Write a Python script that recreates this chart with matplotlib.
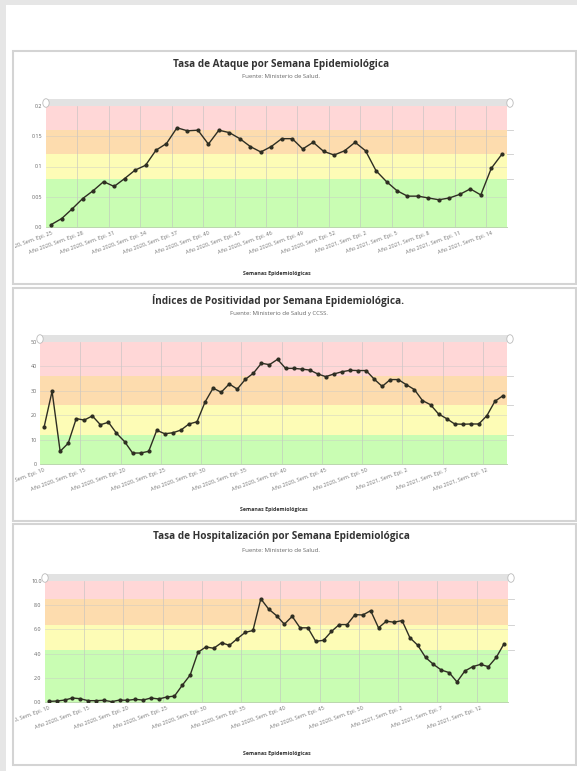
import matplotlib
matplotlib.use("Agg")
import matplotlib.pyplot as plt
from matplotlib.patches import Rectangle, Circle
from matplotlib.transforms import Bbox, TransformedBbox

plt.rcParams['font.family'] = ['Open Sans', 'DejaVu Sans']

W, H = 577, 771

# datos
ataque = [0.004, 0.014, 0.030, 0.047, 0.060, 0.075, 0.067, 0.080, 0.094, 0.102,
          0.127, 0.138, 0.164, 0.159, 0.160, 0.137, 0.160, 0.156, 0.146, 0.133,
          0.124, 0.133, 0.146, 0.146, 0.129, 0.140, 0.125, 0.119, 0.126, 0.140,
          0.126, 0.093, 0.075, 0.060, 0.051, 0.051, 0.048, 0.045, 0.048, 0.054,
          0.063, 0.053, 0.097, 0.120]
positividad = [15.0, 29.8, 5.2, 8.5, 18.6, 18.0, 19.7, 16.1, 17.1, 12.6,
               9.2, 4.5, 4.5, 5.2, 13.8, 12.4, 12.8, 13.9, 16.4, 17.3,
               25.4, 31.1, 29.4, 32.8, 30.7, 34.7, 37.2, 41.3, 40.7, 42.9,
               39.2, 39.2, 38.9, 38.5, 36.9, 35.8, 36.9, 37.8, 38.4, 38.3,
               38.3, 34.8, 31.8, 34.6, 34.6, 32.5, 30.5, 26.0, 24.3, 20.5,
               18.6, 16.4, 16.3, 16.4, 16.4, 19.8, 25.7, 28.0]
hospital = [0.05, 0.08, 0.16, 0.33, 0.27, 0.11, 0.11, 0.14, 0.03, 0.16,
            0.14, 0.22, 0.16, 0.33, 0.25, 0.41, 0.49, 1.39, 2.23, 4.11,
            4.55, 4.44, 4.90, 4.68, 5.23, 5.75, 5.91, 8.53, 7.68, 7.14,
            6.43, 7.08, 6.13, 6.13, 5.01, 5.10, 5.83, 6.40, 6.40, 7.22,
            7.19, 7.55, 6.13, 6.68, 6.59, 6.73, 5.31, 4.69, 3.68, 3.11,
            2.64, 2.43, 1.66, 2.56, 2.92, 3.11, 2.92, 3.68, 4.82]

semana_inicio_ataque = 25
semana_inicio_pos = 10
semana_inicio_hosp = 10

titulos = ["Tasa de Ataque por Semana Epidemiológica",
           "Índices de Positividad por Semana Epidemiológica.",
           "Tasa de Hospitalización por Semana Epidemiológica"]
fuentes = ["Fuente: Ministerio de Salud.",
           "Fuente: Ministerio de Salud y CCSS.",
           "Fuente: Ministerio de Salud."]

# limites de las bandas (verde, amarillo, naranja, rojo)
bandas_ataque = [0.0, 0.08, 0.12, 0.16, 0.2]
bandas_pos = [0, 12, 24, 36, 50]
bandas_hosp = [0.0, 4.3, 6.4, 8.5, 10.0]
colores_bandas = ['#c9fdb3', '#fdfcb6', '#fddcae', '#ffd7d7']

yticks_ataque = [0.0, 0.05, 0.1, 0.15, 0.2]
ylab_ataque = ['0.0', '0.05', '0.1', '0.15', '0.2']
yticks_pos = [0, 10, 20, 30, 40, 50]
ylab_pos = ['0', '10', '20', '30', '40', '50']
yticks_hosp = [0, 2, 4, 6, 8, 10]
ylab_hosp = ['0.0', '2.0', '4.0', '6.0', '8.0', '10.0']


def etiquetas_semanas(inicio, n):
    anio, sem = 2020, inicio
    out = []
    for _ in range(n):
        out.append(f"Año {anio}, Sem. Epi. {sem}")
        sem += 1
        if anio == 2020 and sem > 53:
            anio, sem = 2021, 1
    return out


fig = plt.figure(figsize=(W/100, H/100), dpi=100)

def fx(x):
    return x/W

def fy(y):
    return 1 - y/H

# marco exterior
fig.patches.append(Rectangle((0, 0), fx(6), 1, transform=fig.transFigure,
                             facecolor='#e6e6e6', edgecolor='none', zorder=-2))
fig.patches.append(Rectangle((0, fy(5)), 1, 5/H, transform=fig.transFigure,
                             facecolor='#e6e6e6', edgecolor='none', zorder=-2))


def panel(caja, plot, valores, inicio, paso, bandas, yticks, ylabs, titulo, fuente):
    bx0, by0, bx1, by1 = caja
    px0, py0, px1, py1 = plot
    # caja del panel
    fig.patches.append(Rectangle((fx(bx0), fy(by1)), fx(bx1-bx0), (by1-by0)/H,
                                 transform=fig.transFigure, facecolor='white',
                                 edgecolor='#d4d4d4', lw=1.5, zorder=-1))
    cx = (px0 + px1) / 2 + 5
    fig.text(fx(cx), fy(by0+13), titulo, ha='center', va='center', fontsize=7.2,
             fontweight='bold', color='#333333')
    fig.text(fx(cx), fy(by0+26), fuente, ha='center', va='center', fontsize=4.3,
             color='#666666')
    # franja gris superior
    fig.patches.append(Rectangle((fx(px0), fy(py0)), fx(px1-px0+4), 7/H,
                                 transform=fig.transFigure, facecolor='#e2e2e2',
                                 edgecolor='none', zorder=2))
    for xc in (px0, px1+3):
        fig.patches.append(Circle((fx(xc), fy(py0-3)), 3.2/W, transform=fig.transFigure,
                                  facecolor='white', edgecolor='#bbbbbb', lw=0.6, zorder=3))

    ax = fig.add_axes([fx(px0), fy(py1), fx(px1-px0), (py1-py0)/H])
    n = len(valores)
    x = list(range(n))
    for i in range(4):
        ax.axhspan(bandas[i], bandas[i+1], color=colores_bandas[i], zorder=0, lw=0)
    for yv in bandas[1:4]:
        ax.plot([1.0, 1.012], [yv, yv], transform=ax.get_yaxis_transform(),
                color='#cccccc', lw=0.6, clip_on=False)
    ticks = list(range(0, n, paso))
    for t in ticks[1:]:
        ax.axvline(t - 0.5, color='#c0c0c0', lw=0.5, alpha=0.8, zorder=1)
    for yv in yticks[1:-1]:
        ax.axhline(yv, color='#c8c8c8', lw=0.5, alpha=0.6, zorder=1)
    ax.plot(x, valores, color='#2e2e22', lw=1.0, marker='o', markersize=2.0, zorder=3)
    ax.set_xlim(-0.5, n - 0.5)
    ax.set_ylim(bandas[0], bandas[-1])
    ax.set_yticks(yticks)
    ax.set_yticklabels(ylabs, fontsize=3.9, color='#666666')
    labels = etiquetas_semanas(inicio, n)
    ax.set_xticks(ticks)
    ax.set_xticklabels([labels[t] for t in ticks], fontsize=4.0, color='#777777',
                       rotation=20, ha='right', rotation_mode='anchor')
    clip = TransformedBbox(Bbox.from_extents(fx(bx0+2), 0, fx(bx1), 1), fig.transFigure)
    for lbl in ax.get_xticklabels():
        lbl.set_clip_on(True)
        lbl.set_clip_box(clip)
    ax.tick_params(length=0, pad=2.5)
    for s in ax.spines.values():
        s.set_visible(False)
    ax.spines['bottom'].set_visible(True)
    ax.spines['bottom'].set_color('#b0d0a0')
    ax.spines['bottom'].set_linewidth(0.6)
    fig.text(fx(cx - 5), fy(by1 - 11), "Semanas Epidemiológicas", ha='center', va='center',
             fontsize=3.8, fontweight='bold', color='#333333')
    return ax


panel((13, 51, 576, 284), (46, 106, 507, 227), ataque, semana_inicio_ataque, 3,
      bandas_ataque, yticks_ataque, ylab_ataque, titulos[0], fuentes[0])
panel((13, 288, 576, 521), (40, 342, 507, 464), positividad, semana_inicio_pos, 5,
      bandas_pos, yticks_pos, ylab_pos, titulos[1], fuentes[1])
panel((13, 524, 576, 765), (45, 581, 508, 702), hospital, semana_inicio_hosp, 5,
      bandas_hosp, yticks_hosp, ylab_hosp, titulos[2], fuentes[2])

fig.savefig("out.png", dpi=100)
